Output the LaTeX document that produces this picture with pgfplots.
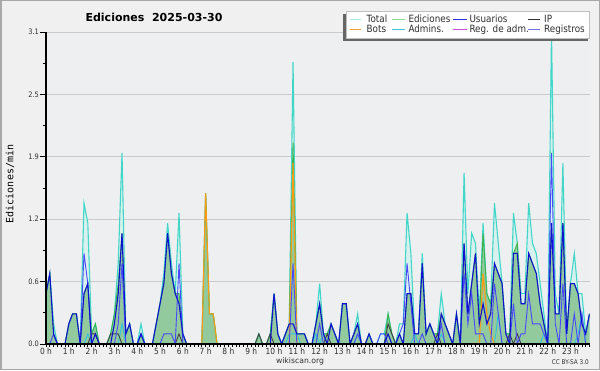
\documentclass[border=0pt]{standalone}
\usepackage{pgfplots}
\pgfplotsset{compat=1.18}
\usepackage{pgfplotstable}
\usepackage{fontspec}
\setmainfont{DejaVu Sans}
\newfontfamily\cond[FakeStretch=0.88]{DejaVu Sans}
\newfontfamily\mono{DejaVu Sans Mono}
\definecolor{outbg}{HTML}{F0F0F0}
\definecolor{plotbg}{HTML}{EDEFF1}
\definecolor{framegray}{HTML}{A8A8A8}
\definecolor{gridgray}{HTML}{CACACA}
\definecolor{totfill}{HTML}{D8F1EE}
\definecolor{totline}{HTML}{40D6C8}
\definecolor{edfill}{HTML}{92C99D}
\definecolor{edline}{HTML}{3CB44B}
\definecolor{usline}{HTML}{1010D0}
\definecolor{regline}{HTML}{4848FF}
\definecolor{ipline}{HTML}{404040}
\definecolor{botline}{HTML}{FF9A10}
\definecolor{admline}{HTML}{30C0E0}
\definecolor{lgtot}{HTML}{A8ECEC}
\definecolor{lged}{HTML}{90D890}
\definecolor{lgus}{HTML}{3030E0}
\definecolor{lgip}{HTML}{303030}
\definecolor{lgbot}{HTML}{F8A040}
\definecolor{lgadm}{HTML}{40C8E0}
\definecolor{lgrega}{HTML}{D050E0}
\definecolor{lgreg}{HTML}{7070F0}
\definecolor{txt}{HTML}{303030}

\pgfplotstableread{
i T E U IP B A R
0 0.5 0.5 0.5 0 0 0 0
1 0.7 0.7 0.7 0 0 0 0
2 0.2 0.1 0.1 0 0 0 0.1
3 0 0 0 0 0 0 0
4 0 0 0 0 0 0 0
5 0 0 0 0 0 0 0
6 0.2 0.2 0.2 0 0 0 0
7 0.3 0.3 0.3 0 0 0 0
8 0.3 0.3 0.3 0 0 0 0
9 0 0 0 0 0 0 0
10 1.4 0.5 0.5 0 0 0 0.9
11 1.2 0.6 0.6 0 0 0.1 0.6
12 0.1 0.1 0 0.1 0 0 0
13 0.2 0.2 0.1 0.1 0 0 0
14 0 0 0 0 0 0 0
15 0 0 0 0 0 0 0
16 0 0 0 0 0 0 0
17 0.1 0.1 0 0.1 0 0 0
18 0.3 0.3 0.2 0.1 0 0 0
19 0.8 0.6 0.5 0.1 0 0 0.2
20 1.9 1.1 1.1 0 0 0.2 0.8
21 0.1 0.1 0.1 0 0 0 0
22 0.2 0.2 0.2 0 0 0 0
23 0 0 0 0 0 0 0
24 0 0 0 0 0 0 0
25 0.2 0.1 0.1 0 0 0.1 0.1
26 0 0 0 0 0 0 0
27 0 0 0 0 0 0 0
28 0 0 0 0 0 0 0
29 0.2 0.2 0.2 0 0 0 0
30 0.4 0.4 0.4 0 0 0 0
31 0.7 0.6 0.6 0 0 0 0.1
32 1.2 1.1 1.1 0 0 0 0.1
33 0.8 0.7 0.7 0 0 0 0.1
34 0.5 0.5 0.5 0 0 0 0
35 1.3 0.5 0.4 0.1 0 0 0.8
36 0.1 0.1 0.1 0 0 0 0
37 0 0 0 0 0 0 0
38 0 0 0 0 0 0 0
39 0 0 0 0 0 0 0
40 0 0 0 0 0 0 0
41 0 0 0 0 0 0 0
42 1.5 1.5 0 0 1.5 0 0
43 0.3 0.3 0 0 0.3 0 0
44 0.3 0.3 0 0 0.3 0 0
45 0 0 0 0 0 0 0
46 0 0 0 0 0 0 0
47 0 0 0 0 0 0 0
48 0 0 0 0 0 0 0
49 0 0 0 0 0 0 0
50 0 0 0 0 0 0 0
51 0 0 0 0 0 0 0
52 0 0 0 0 0 0 0
53 0 0 0 0 0 0 0
54 0 0 0 0 0 0 0
55 0 0 0 0 0 0 0
56 0.1 0.1 0 0.1 0 0 0
57 0 0 0 0 0 0 0
58 0 0 0 0 0 0 0
59 0.1 0.1 0 0.1 0 0 0
60 0.5 0.5 0.5 0 0 0 0
61 0.1 0.1 0.1 0 0 0 0
62 0 0 0 0 0 0 0
63 0.1 0.1 0.1 0 0 0 0
64 0.2 0.2 0.2 0 0 0.1 0
65 2.8 2.0 0.2 0 1.8 0.1 0.8
66 0.1 0.1 0.1 0 0 0.1 0
67 0.1 0.1 0.1 0 0 0 0
68 0.1 0.1 0.1 0 0 0 0
69 0 0 0 0 0 0 0
70 0 0 0 0 0 0 0
71 0.2 0.2 0.2 0 0 0.1 0
72 0.6 0.4 0.4 0 0 0 0.2
73 0.1 0.1 0.1 0 0 0.1 0
74 0.1 0.1 0 0.1 0 0 0
75 0.2 0.2 0.2 0 0 0 0
76 0.1 0.1 0.1 0 0 0 0
77 0 0 0 0 0 0 0
78 0.4 0.4 0.4 0 0 0 0
79 0.4 0.4 0.4 0 0 0 0
80 0 0 0 0 0 0 0
81 0.1 0.1 0.1 0 0 0 0
82 0.3 0.2 0.2 0 0 0.1 0.1
83 0 0 0 0 0 0 0
84 0 0 0 0 0 0 0
85 0.1 0.1 0.1 0 0 0 0
86 0 0 0 0 0 0 0
87 0 0 0 0 0 0 0
88 0.1 0 0 0 0 0 0.1
89 0.1 0 0 0 0 0 0.1
90 0.3 0.3 0.1 0.2 0 0 0
91 0.1 0.1 0 0.1 0 0 0
92 0 0 0 0 0 0 0
93 0.2 0.1 0.1 0 0 0 0.1
94 0.2 0 0 0 0 0 0.2
95 1.3 0.5 0.5 0 0 0 0.8
96 0.9 0.5 0.5 0 0 0 0.4
97 0.1 0.1 0.1 0 0 0.1 0
98 0.1 0.1 0.1 0 0 0 0
99 0.9 0.8 0.8 0 0 0 0.1
100 0.1 0.1 0.1 0 0 0 0
101 0.2 0.2 0.2 0 0 0 0
102 0.1 0.1 0.1 0 0 0 0
103 0.1 0.1 0 0.1 0 0 0
104 0.5 0.3 0.3 0 0 0.1 0.2
105 0.2 0.2 0.2 0 0 0 0
106 0.1 0.1 0.1 0 0 0 0
107 0 0 0 0 0 0 0
108 0.3 0.3 0.3 0 0 0 0
109 0 0 0 0 0 0 0
110 1.7 1.0 1.0 0 0 0 0.7
111 0.5 0.3 0.3 0 0 0 0.2
112 1.1 0.6 0.6 0 0 0 0.5
113 1.0 0.9 0.9 0 0 0 0.1
114 0.3 0.2 0.2 0 0 0 0.1
115 1.2 1.1 0.4 0 0.7 0 0.1
116 0.5 0.5 0.2 0 0.3 0 0
117 0.4 0.4 0.3 0 0.1 0 0
118 1.4 0.8 0.8 0 0 0 0.6
119 1.0 0.7 0.7 0 0 0.3 0.3
120 0.6 0.6 0.6 0 0 0 0
121 0.1 0.1 0.1 0 0 0 0
122 0.1 0.1 0 0.1 0 0 0
123 1.3 0.9 0.9 0 0 0 0.4
124 1.0 1.0 0.9 0.1 0 0 0
125 0.5 0.4 0.4 0 0 0 0.1
126 0.5 0.4 0.4 0 0 0 0.1
127 1.4 0.9 0.9 0 0 0 0.5
128 1.0 0.8 0.8 0 0 0 0.2
129 0.9 0.7 0.7 0 0 0 0.2
130 0.6 0.4 0.4 0 0 0 0.2
131 0.3 0.2 0.2 0 0 0.1 0.1
132 0 0 0 0 0 0 0
133 3.1 1.2 1.2 0 0 0 1.9
134 0.5 0.3 0.3 0 0 0 0.2
135 0.3 0.3 0.3 0 0 0 0
136 1.8 1.2 1.2 0 0 0 0.6
137 0.1 0.1 0.1 0 0 0 0
138 0.6 0.6 0.6 0 0 0 0
139 0.9 0.6 0.6 0 0 0 0.3
140 0.5 0.5 0.5 0 0 0.1 0
141 0.5 0.2 0.2 0 0 0.3 0.3
142 0.1 0.1 0.1 0 0 0 0
143 0.3 0.3 0.3 0 0 0 0
}\data

\begin{document}
\begin{tikzpicture}[x=1pt,y=1pt]
\useasboundingbox (0,0) rectangle (600,370);
\fill[outbg] (0,0) rectangle (600,370);
\draw[framegray, line width=1.5pt] (0.75,0.75) rectangle (599.25,369.25);
\begin{axis}[
  at={(46pt,26pt)}, anchor=south west,
  scale only axis, width=543.5pt, height=312pt,
  xmin=0, xmax=143, ymin=0, ymax=3.1,
  axis background/.style={fill=plotbg},
  axis x line*=bottom, axis y line*=left,
  axis line style={-, black, line width=1.1pt},
  tick align=outside,
  major tick length=6pt, minor tick length=3pt,
  xtick={0,6,...,138},
  xticklabels={0 h,1 h,2 h,3 h,4 h,5 h,6 h,7 h,8 h,9 h,10 h,11 h,12 h,13 h,14 h,15 h,16 h,17 h,18 h,19 h,20 h,21 h,22 h,23 h},
  minor xtick={0,1,...,143},
  major x tick style={draw=none},
  ytick={0,0.62,1.24,1.86,2.48,3.1},
  yticklabels={0.0,0.6,1.2,1.9,2.5,3.1},
  minor ytick={0.31,0.93,1.55,2.17,2.79},
  tick style={black, line width=0.8pt},
  ymajorgrids=true,
  major grid style={draw=gridgray, line width=0.9pt},
  xticklabel style={font=\cond\fontsize{8.5}{10}\selectfont, text=txt, inner sep=1pt, yshift=3.5pt},
  yticklabel style={font=\cond\fontsize{7.5}{9}\selectfont, text=txt, inner sep=1pt},
]
\addplot[fill=totfill, draw=none] table[x=i,y=T] {\data} \closedcycle;
\addplot[fill=edfill, draw=none] table[x=i,y=E] {\data} \closedcycle;
\addplot[totline, line width=1.1pt] table[x=i,y=T] {\data};
\addplot[edline, line width=0.9pt] table[x=i,y=E] {\data};
\addplot[admline, line width=0.9pt] table[x=i,y=A] {\data};
\addplot[botline, line width=1.1pt] table[x=i,y=B] {\data};
\addplot[ipline, line width=0.9pt] table[x=i,y=IP] {\data};
\addplot[regline, line width=0.9pt] table[x=i,y=R] {\data};
\addplot[usline, line width=1.1pt] table[x=i,y=U] {\data};
\end{axis}
% axis lines redrawn on top of the series
\draw[black, line width=1.3pt] (46,338) -- (46,26) -- (589.5,26);
% title and labels
\node[font=\bfseries\fontsize{11}{13}\selectfont, text=black] at (154,353) {Ediciones\ \ 2025-03-30};
\node[font=\mono\fontsize{10}{12}\selectfont, rotate=90, text=black] at (10,186) {Ediciones/min};
\node[font=\fontsize{7.7}{9}\selectfont, text=txt] at (300,8.5) {wikiscan.org};
\node[font=\cond\fontsize{6.5}{8}\selectfont, text=txt, anchor=east, inner sep=0pt] at (589,7.5) {CC BY-SA 3.0};
% legend
\fill[black!60] (343,329) rectangle (588,356);
\fill[white] (346,332) rectangle (589,359);
\draw[black!25, line width=0.6pt] (346,332) rectangle (589,359);
\begin{scope}[line width=1pt]
\draw[lgtot] (350,350) -- (361,350);
\draw[lged] (392,350) -- (405,350);
\draw[lgus] (453,350) -- (467,350);
\draw[lgip] (528,350) -- (540,350);
\draw[lgbot] (350,340) -- (361,340);
\draw[lgadm] (392,340) -- (405,340);
\draw[lgrega] (453,340) -- (467,340);
\draw[lgreg] (528,340) -- (540,340);
\end{scope}
\begin{scope}[every node/.style={font=\cond\fontsize{10}{12}\selectfont, text=txt, anchor=base west, inner sep=0pt}]
\node at (366.5,347.3) {Total};
\node at (408.3,347.3) {Ediciones};
\node at (469.3,347.3) {Usuarios};
\node at (544,347.3) {IP};
\node at (366.5,337.3) {Bots};
\node at (408.3,337.3) {Admins.};
\node at (469.3,337.3) {Reg. de adm.};
\node at (544,337.3) {Registros};
\end{scope}
\end{tikzpicture}
\end{document}
